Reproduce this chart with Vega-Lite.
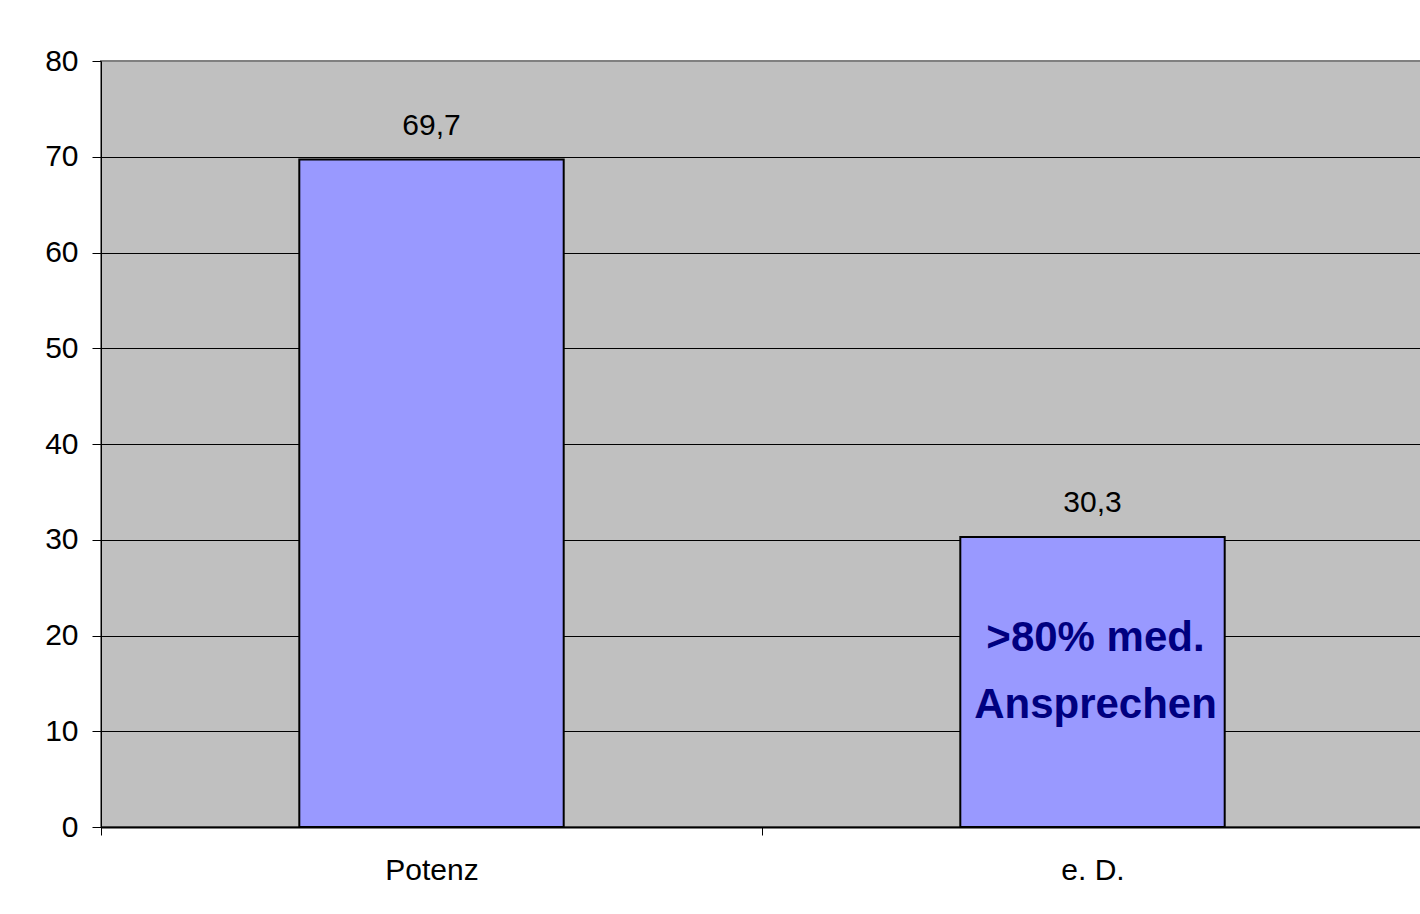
{
  "$schema": "https://vega.github.io/schema/vega-lite/v6.json",
  "width": 1322,
  "height": 766,
  "autosize": {"type": "none"},
  "padding": {"left": 101, "top": 61, "right": 0, "bottom": 87},
  "background": "white",
  "config": {
    "font": "Liberation Sans",
    "view": {"fill": "#C0C0C0", "stroke": "#808080", "strokeWidth": 2},
    "locale": {"number": {"decimal": ",", "thousands": ".", "grouping": [3], "currency": ["", " €"]}}
  },
  "data": {"values": [
    {"Kategorie": "Potenz", "Wert": 69.7},
    {"Kategorie": "e. D.", "Wert": 30.3}
  ]},
  "encoding": {
    "x": {"field": "Kategorie", "type": "nominal", "sort": null,
      "scale": {"paddingInner": 0, "paddingOuter": 0},
      "axis": {"title": null, "labelAngle": 0, "labelFontSize": 30, "labelColor": "black",
        "labelFont": "Liberation Sans", "tickBand": "extent", "tickColor": "black", "tickSize": 8,
        "domainColor": "black", "domainWidth": 2, "labelPadding": 20}}
  },
  "layer": [
    {
      "mark": {"type": "bar", "fill": "#9999FF", "stroke": "black", "strokeWidth": 2, "width": {"band": 0.4}},
      "encoding": {
        "y": {"field": "Wert", "type": "quantitative",
          "scale": {"domain": [0, 80], "nice": false},
          "axis": {"title": null, "values": [0, 10, 20, 30, 40, 50, 60, 70, 80],
            "labelFontSize": 30, "labelColor": "black", "labelFont": "Liberation Sans",
            "tickColor": "black", "tickSize": 9, "labelPadding": 14,
            "domainColor": "black", "domainWidth": 1,
            "grid": true,
            "gridColor": {"condition": {"test": "datum.value == 80", "value": "#808080"}, "value": "black"},
            "gridWidth": 1}}
      }
    },
    {
      "mark": {"type": "text", "baseline": "middle", "align": "center", "dy": -34, "fontSize": 30, "color": "black"},
      "encoding": {
        "y": {"field": "Wert", "type": "quantitative"},
        "text": {"field": "Wert", "type": "quantitative", "format": ".1f"}
      }
    },
    {
      "transform": [{"filter": "datum.Kategorie == 'e. D.'"}],
      "mark": {"type": "text", "baseline": "middle", "align": "center", "fontSize": 42, "fontWeight": "bold",
        "color": "#000080", "lineHeight": 67, "dx": 3,
        "text": [">80% med.", "Ansprechen"]},
      "encoding": {
        "y": {"datum": 19.74, "type": "quantitative"}
      }
    }
  ]
}
